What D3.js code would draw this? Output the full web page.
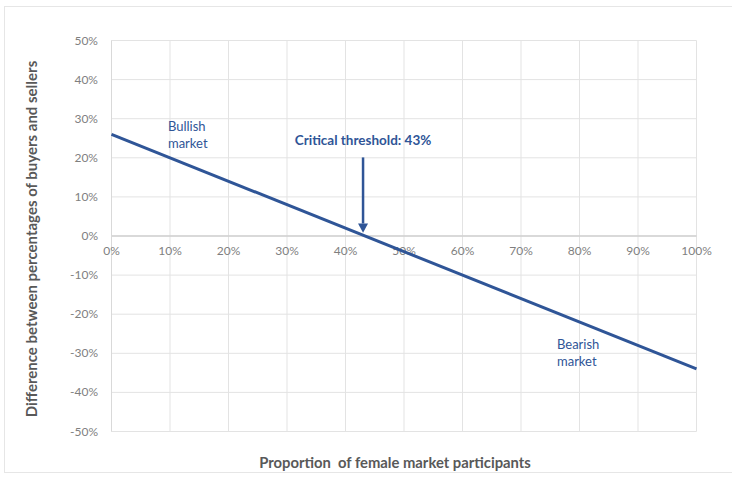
<!DOCTYPE html>
<html><head><meta charset="utf-8">
<script src="https://cdn.jsdelivr.net/npm/d3@7"></script>
<style>body{margin:0;background:#fff}svg{display:block}</style>
</head><body>
<script>
const xPoints = [0, 100];            // proportion of female participants (%)
const yPoints = [26, -34];           // difference buyers - sellers (%)
const xTicks = [0,10,20,30,40,50,60,70,80,90,100];
const yTicks = [50,40,30,20,10,0,-10,-20,-30,-40,-50];
const threshold = 43;
const labels = [
  {x: 12.9, y: 26.8, lines: ["Bullish", "market"]},
  {x: 79.4, y: -28.9, lines: ["Bearish", "market"]}
];

const W = 732, H = 478;
const svg = d3.select("body").append("svg").attr("width", W).attr("height", H);
svg.append("rect").attr("x",4.5).attr("y",6.5).attr("width",740).attr("height",466)
  .attr("fill","#fff").attr("stroke","#e6e6e6");

const x = d3.scaleLinear().domain([0,100]).range([111.5, 696.5]);
const y = d3.scaleLinear().domain([-50,50]).range([431.5, 40.5]);
const font = "Lato, 'Open Sans', sans-serif";

// gridlines
svg.append("g").selectAll("line.h").data(yTicks).join("line")
  .attr("x1", x(0)).attr("x2", x(100)).attr("y1", d=>y(d)).attr("y2", d=>y(d))
  .attr("stroke", "#e3e3e3").attr("stroke-width", 1);
svg.append("g").selectAll("line.v").data(xTicks).join("line")
  .attr("x1", d=>x(d)).attr("x2", d=>x(d)).attr("y1", y(50)).attr("y2", y(-50))
  .attr("stroke", "#e3e3e3").attr("stroke-width", 1);
// zero axis
svg.append("line").attr("x1", x(0)).attr("x2", x(100)).attr("y1", y(0)).attr("y2", y(0))
  .attr("stroke", "#d0d0d0").attr("stroke-width", 1.5);
svg.append("line").attr("x1", x(0)).attr("x2", x(0)).attr("y1", y(50)).attr("y2", y(-50))
  .attr("stroke", "#d9d9d9").attr("stroke-width", 1);

// y tick labels
svg.append("g").selectAll("text").data(yTicks).join("text")
  .attr("x", 98).attr("y", d=>y(d)+4).attr("text-anchor","end")
  .attr("font-family", font).attr("font-size", 12).attr("fill", "#7f7f7f")
  .text(d=>d+"%");
// x tick labels
svg.append("g").selectAll("text").data(xTicks).join("text")
  .attr("x", d=>x(d)).attr("y", y(0)+19).attr("text-anchor","middle")
  .attr("font-family", font).attr("font-size", 12).attr("fill", "#7f7f7f")
  .text(d=>d+"%");

// line
const line = d3.line().x(d=>x(d[0])).y(d=>y(d[1]));
svg.append("path").datum(xPoints.map((v,i)=>[v,yPoints[i]])).attr("d", line)
  .attr("fill","none").attr("stroke","#2f5597").attr("stroke-width",3);

// arrow
const blue = "#2f5597";
svg.append("line").attr("x1", x(threshold)).attr("x2", x(threshold))
  .attr("y1", y(20.1)).attr("y2", y(3.2)).attr("stroke", blue).attr("stroke-width", 2.5);
svg.append("path")
  .attr("d", `M${x(threshold)-5},${y(3.2)} L${x(threshold)+5},${y(3.2)} L${x(threshold)},${y(0.8)} Z`)
  .attr("fill", blue);
svg.append("text").attr("x", x(threshold)).attr("y", y(23.3))
  .attr("text-anchor","middle").attr("font-family", font).attr("font-size", 13.5)
  .attr("font-weight","bold").attr("fill", blue).text("Critical threshold: 43%");

// region labels
labels.forEach(l => {
  const t = svg.append("text").attr("font-family", font).attr("font-size", 13).attr("fill", blue);
  l.lines.forEach((s,i) => t.append("tspan").attr("x", x(l.x) - 19).attr("y", y(l.y) + i*17).text(s));
});

// axis titles
svg.append("text").attr("x", 395).attr("y", 468).attr("text-anchor","middle")
  .attr("font-family", font).attr("font-size", 14.8).attr("font-weight","bold").attr("fill","#595959")
  .text("Proportion\u00a0 of female market participants");
svg.append("text").attr("transform", "translate(37,239) rotate(-90)").attr("text-anchor","middle")
  .attr("font-family", font).attr("font-size", 15).attr("font-weight","bold").attr("fill","#595959")
  .text("Difference between percentages of buyers and sellers");
</script>
</body></html>
